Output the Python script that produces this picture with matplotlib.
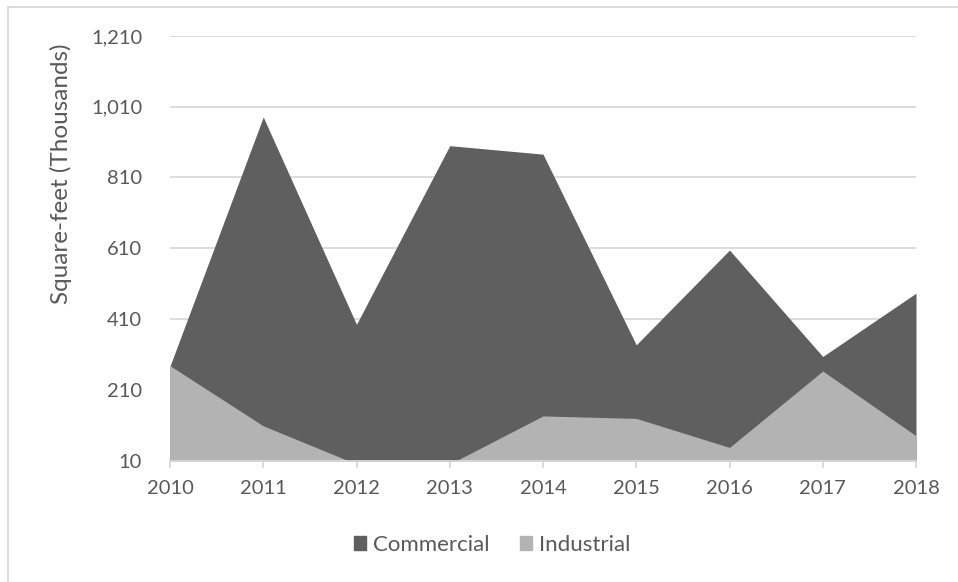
import matplotlib
matplotlib.use("Agg")
import matplotlib.pyplot as plt
from matplotlib.patches import Patch, Rectangle

years = ["2010", "2011", "2012", "2013", "2014", "2015", "2016", "2017", "2018"]
commercial = [277, 981, 395, 900, 876, 337, 605, 304, 483]
industrial = [278, 108, 0, 0, 136, 129, 47, 263, 80]
y_ticks = [10, 210, 410, 610, 810, 1010, 1210]

plt.rcParams['font.family'] = ['Lato', 'DejaVu Sans']
txt = '#595959'
W, H = 958, 582
fig = plt.figure(figsize=(W / 100, H / 100), dpi=100)
fig.patches.append(Rectangle((8 / W, -0.1), 1.2, 1 - 7 / H + 0.1, transform=fig.transFigure,
                             fill=False, edgecolor='#d9d9d9', lw=1.3))

ax = fig.add_axes([170 / W, 1 - 460.5 / H, (916 - 170) / W, (460.5 - 36) / H])
x = list(range(len(years)))
ax.fill_between(x, 0, commercial, color='#5f5f5f', lw=0, zorder=2, label='Commercial')
ax.fill_between(x, 0, industrial, color='#b3b3b3', lw=0, zorder=3, label='Industrial')

ax.set_xlim(0, len(years) - 1)
ax.set_ylim(10, 1210)
ax.set_yticks(y_ticks)
ax.set_yticklabels([f"{v:,}" for v in y_ticks])
ax.set_xticks(x)
ax.set_xticklabels(years)
ax.grid(axis='y', color='#d9d9d9', lw=1.3, zorder=0)
ax.set_axisbelow(True)
for s in ['top', 'right', 'left']:
    ax.spines[s].set_visible(False)
ax.spines['bottom'].set_color('#d9d9d9')
ax.spines['bottom'].set_linewidth(1.3)
ax.spines['bottom'].set_zorder(4)
ax.tick_params(axis='y', length=0, pad=20, labelsize=14.5, labelcolor=txt)
ax.tick_params(axis='x', length=5, width=1.3, color='#d9d9d9', pad=9, labelsize=14.5, labelcolor=txt)

fig.text(61 / W, 1 - 173.5 / H, "Square-feet (Thousands)", rotation=90, ha='center', va='center',
         fontsize=17.5, color=txt)

handles = [Patch(color='#5f5f5f', label='Commercial'), Patch(color='#b3b3b3', label='Industrial')]
fig.legend(handles=handles, loc='center', bbox_to_anchor=(492 / W, 1 - 545 / H), ncol=2,
           frameon=False, fontsize=16, labelcolor=txt, handlelength=0.55, handleheight=0.55,
           handletextpad=0.3, columnspacing=1.4)

fig.savefig("out.png", dpi=100)
